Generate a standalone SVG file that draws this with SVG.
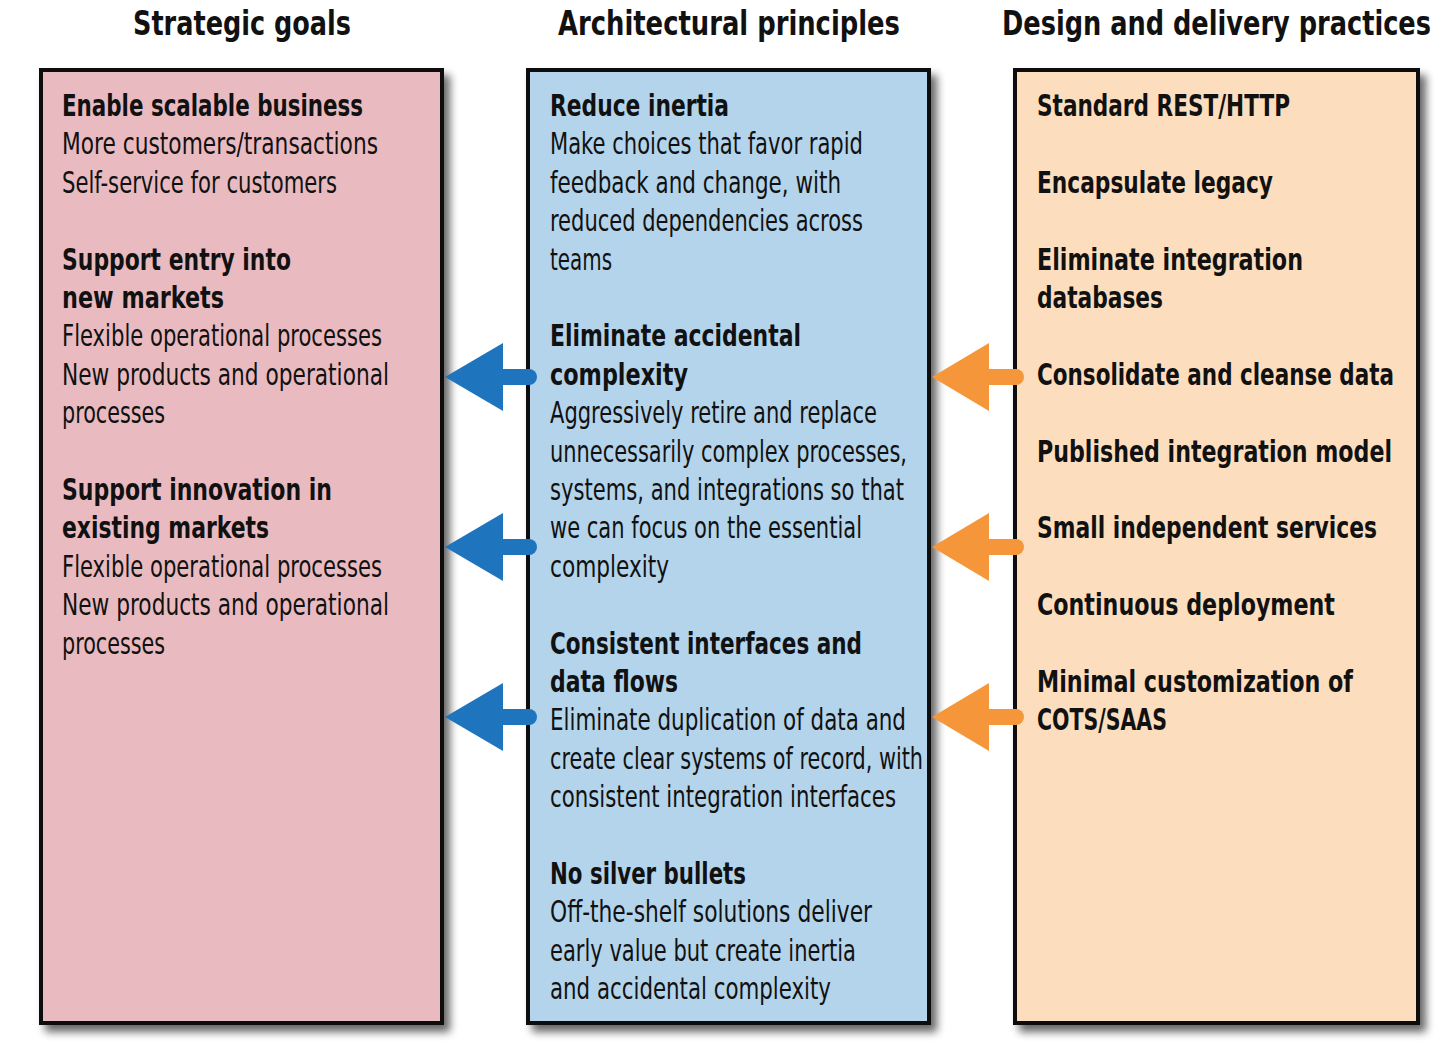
<svg xmlns="http://www.w3.org/2000/svg" width="1448" height="1060" viewBox="0 0 1448 1060">
<style>
text { font-family: "Liberation Sans Narrow", "DejaVu Sans Condensed", "Liberation Sans", sans-serif; fill: #111; }
.t { font-size: 33px; font-weight: bold; }
.h { font-size: 31px; font-weight: bold; }
.b { font-size: 31px; font-weight: normal; }
.box { stroke: #111; stroke-width: 4; }
.pink { fill: #e9bbc0; }
.blue { fill: #b4d4eb; }
.peach { fill: #fcdebe; }
.ab { fill: #1f74be; }
.ao { fill: #f6963a; }
.sb { stroke: #1f74be; stroke-width: 16; stroke-linecap: round; fill: none; }
.so { stroke: #f6963a; stroke-width: 16; stroke-linecap: round; fill: none; }
</style>
<defs>
<filter id="sh" x="-10%" y="-10%" width="125%" height="125%">
<feGaussianBlur in="SourceAlpha" stdDeviation="4"/>
<feOffset dx="6" dy="7" result="o"/>
<feComponentTransfer><feFuncA type="linear" slope="0.6"/></feComponentTransfer>
<feMerge><feMergeNode/><feMergeNode in="SourceGraphic"/></feMerge>
</filter>
</defs>
<rect width="1448" height="1060" fill="#ffffff"/>

<g id="strategic-goals">
<text class="t" x="133" y="35" textLength="218" lengthAdjust="spacingAndGlyphs">Strategic goals</text>
<rect class="box pink" x="41" y="70" width="401" height="953" filter="url(#sh)"/>
<text class="h" x="62" y="116" textLength="301" lengthAdjust="spacingAndGlyphs">Enable scalable business</text>
<text class="b" x="62" y="154.4" textLength="316" lengthAdjust="spacingAndGlyphs">More customers/transactions</text>
<text class="b" x="62" y="192.8" textLength="275" lengthAdjust="spacingAndGlyphs">Self-service for customers</text>
<text class="h" x="62" y="269.6" textLength="229" lengthAdjust="spacingAndGlyphs">Support entry into</text>
<text class="h" x="62" y="308" textLength="162" lengthAdjust="spacingAndGlyphs">new markets</text>
<text class="b" x="62" y="346.4" textLength="320" lengthAdjust="spacingAndGlyphs">Flexible operational processes</text>
<text class="b" x="62" y="384.8" textLength="327" lengthAdjust="spacingAndGlyphs">New products and operational</text>
<text class="b" x="62" y="423.2" textLength="103" lengthAdjust="spacingAndGlyphs">processes</text>
<text class="h" x="62" y="500" textLength="270" lengthAdjust="spacingAndGlyphs">Support innovation in</text>
<text class="h" x="62" y="538.4" textLength="207" lengthAdjust="spacingAndGlyphs">existing markets</text>
<text class="b" x="62" y="576.8" textLength="320" lengthAdjust="spacingAndGlyphs">Flexible operational processes</text>
<text class="b" x="62" y="615.2" textLength="327" lengthAdjust="spacingAndGlyphs">New products and operational</text>
<text class="b" x="62" y="653.6" textLength="103" lengthAdjust="spacingAndGlyphs">processes</text>
</g>

<g id="architectural-principles">
<text class="t" x="558" y="35" textLength="342" lengthAdjust="spacingAndGlyphs">Architectural principles</text>
<rect class="box blue" x="528" y="70" width="401" height="953" filter="url(#sh)"/>
<text class="h" x="550" y="116" textLength="179" lengthAdjust="spacingAndGlyphs">Reduce inertia</text>
<text class="b" x="550" y="154.4" textLength="313" lengthAdjust="spacingAndGlyphs">Make choices that favor rapid</text>
<text class="b" x="550" y="192.8" textLength="291" lengthAdjust="spacingAndGlyphs">feedback and change, with</text>
<text class="b" x="550" y="231.2" textLength="313" lengthAdjust="spacingAndGlyphs">reduced dependencies across</text>
<text class="b" x="550" y="269.6" textLength="62" lengthAdjust="spacingAndGlyphs">teams</text>
<text class="h" x="550" y="346.4" textLength="251" lengthAdjust="spacingAndGlyphs">Eliminate accidental</text>
<text class="h" x="550" y="384.8" textLength="138" lengthAdjust="spacingAndGlyphs">complexity</text>
<text class="b" x="550" y="423.2" textLength="327" lengthAdjust="spacingAndGlyphs">Aggressively retire and replace</text>
<text class="b" x="550" y="461.6" textLength="357" lengthAdjust="spacingAndGlyphs">unnecessarily complex processes,</text>
<text class="b" x="550" y="500" textLength="354" lengthAdjust="spacingAndGlyphs">systems, and integrations so that</text>
<text class="b" x="550" y="538.4" textLength="312" lengthAdjust="spacingAndGlyphs">we can focus on the essential</text>
<text class="b" x="550" y="576.8" textLength="119" lengthAdjust="spacingAndGlyphs">complexity</text>
<text class="h" x="550" y="653.6" textLength="312" lengthAdjust="spacingAndGlyphs">Consistent interfaces and</text>
<text class="h" x="550" y="692" textLength="128" lengthAdjust="spacingAndGlyphs">data flows</text>
<text class="b" x="550" y="730.4" textLength="356" lengthAdjust="spacingAndGlyphs">Eliminate duplication of data and</text>
<text class="b" x="550" y="768.8" textLength="373" lengthAdjust="spacingAndGlyphs">create clear systems of record, with</text>
<text class="b" x="550" y="807.2" textLength="346" lengthAdjust="spacingAndGlyphs">consistent integration interfaces</text>
<text class="h" x="550" y="884" textLength="196" lengthAdjust="spacingAndGlyphs">No silver bullets</text>
<text class="b" x="550" y="922.4" textLength="322" lengthAdjust="spacingAndGlyphs">Off-the-shelf solutions deliver</text>
<text class="b" x="550" y="960.8" textLength="306" lengthAdjust="spacingAndGlyphs">early value but create inertia</text>
<text class="b" x="550" y="999.2" textLength="281" lengthAdjust="spacingAndGlyphs">and accidental complexity</text>
</g>

<g id="design-delivery-practices">
<text class="t" x="1002" y="35" textLength="429" lengthAdjust="spacingAndGlyphs">Design and delivery practices</text>
<rect class="box peach" x="1015" y="70" width="403" height="953" filter="url(#sh)"/>
<text class="h" x="1037" y="116" textLength="253" lengthAdjust="spacingAndGlyphs">Standard REST/HTTP</text>
<text class="h" x="1037" y="192.8" textLength="236" lengthAdjust="spacingAndGlyphs">Encapsulate legacy</text>
<text class="h" x="1037" y="269.6" textLength="266" lengthAdjust="spacingAndGlyphs">Eliminate integration</text>
<text class="h" x="1037" y="308" textLength="126" lengthAdjust="spacingAndGlyphs">databases</text>
<text class="h" x="1037" y="384.8" textLength="357" lengthAdjust="spacingAndGlyphs">Consolidate and cleanse data</text>
<text class="h" x="1037" y="461.6" textLength="355" lengthAdjust="spacingAndGlyphs">Published integration model</text>
<text class="h" x="1037" y="538.4" textLength="340" lengthAdjust="spacingAndGlyphs">Small independent services</text>
<text class="h" x="1037" y="615.2" textLength="298" lengthAdjust="spacingAndGlyphs">Continuous deployment</text>
<text class="h" x="1037" y="692" textLength="316" lengthAdjust="spacingAndGlyphs">Minimal customization of</text>
<text class="h" x="1037" y="730.4" textLength="130" lengthAdjust="spacingAndGlyphs">COTS/SAAS</text>
</g>

<g id="connectors">
<line class="sb" x1="500" y1="377" x2="529" y2="377"/>
<polygon class="ab" points="445,377 503,343 503,411"/>
<line class="sb" x1="500" y1="547" x2="529" y2="547"/>
<polygon class="ab" points="445,547 503,513 503,581"/>
<line class="sb" x1="500" y1="717" x2="529" y2="717"/>
<polygon class="ab" points="445,717 503,683 503,751"/>
<line class="so" x1="986" y1="377" x2="1016" y2="377"/>
<polygon class="ao" points="932,377 989,343 989,411"/>
<line class="so" x1="986" y1="547" x2="1016" y2="547"/>
<polygon class="ao" points="932,547 989,513 989,581"/>
<line class="so" x1="986" y1="717" x2="1016" y2="717"/>
<polygon class="ao" points="932,717 989,683 989,751"/>
</g>
</svg>
